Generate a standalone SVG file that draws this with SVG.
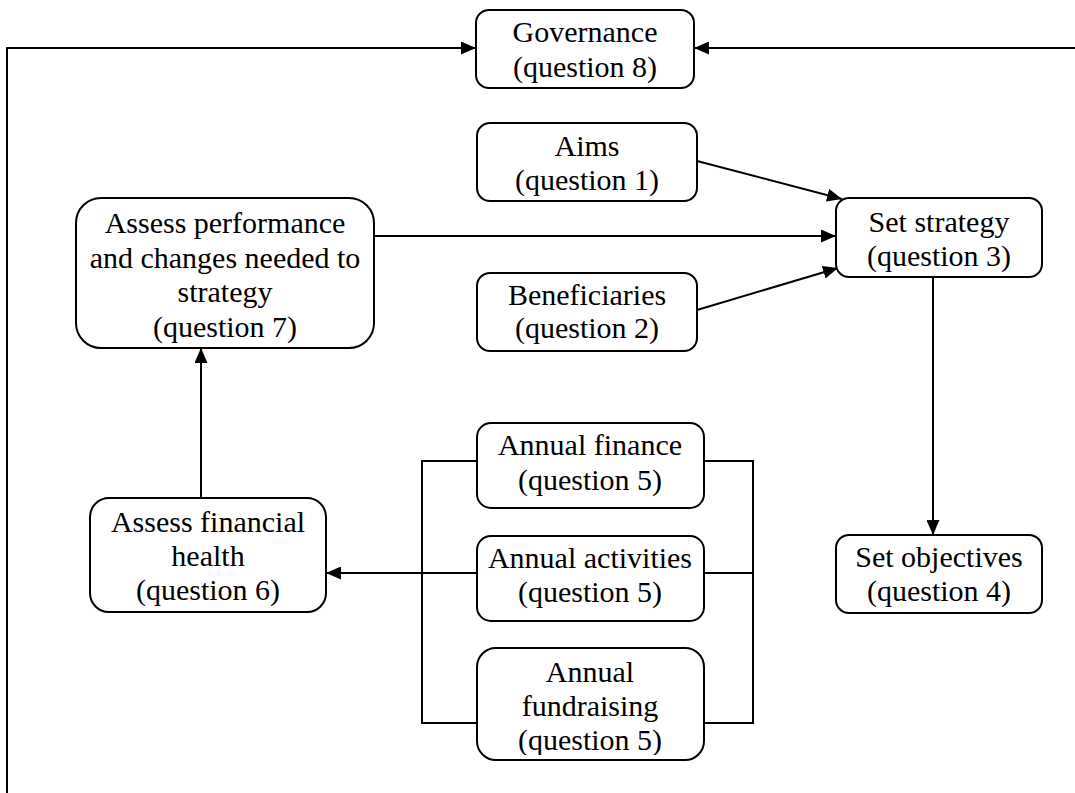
<svg xmlns="http://www.w3.org/2000/svg" width="1075" height="793" viewBox="0 0 1075 793">
<style>
.box{fill:#fff;stroke:#000;stroke-width:2}
.t{font-family:"Liberation Serif","Times New Roman",serif;font-size:30px;fill:#000;text-anchor:middle}
.c{fill:none;stroke:#000;stroke-width:2}
</style>
<defs>
<marker id="ah" markerUnits="userSpaceOnUse" markerWidth="15" markerHeight="13" refX="15" refY="6.5" orient="auto">
<path d="M0,0 L15,6.5 L0,13 z" fill="#000"/>
</marker>
<clipPath id="clipFund"><rect x="477" y="648" width="227" height="107"/></clipPath>
</defs>
<rect width="1075" height="793" fill="#fff"/>
<g id="connectors">
<path class="c" d="M7,793 V48 H476" marker-end="url(#ah)"/>
<path class="c" d="M1075,48 H694" marker-end="url(#ah)"/>
<path class="c" d="M697,161 L842,199" marker-end="url(#ah)"/>
<path class="c" d="M374,236 H836" marker-end="url(#ah)"/>
<path class="c" d="M697,310 L838,268" marker-end="url(#ah)"/>
<path class="c" d="M933,277 V535" marker-end="url(#ah)"/>
<path class="c" d="M201,498 V348" marker-end="url(#ah)"/>
<path class="c" d="M477,573 H326" marker-end="url(#ah)"/>
<path class="c" d="M477,461 H422 V723 H477"/>
<path class="c" d="M704,461 H753 V723 H704"/>
<path class="c" d="M704,573 H753"/>
</g>
<g id="governance">
<rect class="box" x="476" y="10" width="218" height="78" rx="13"/>
<text class="t" x="585" y="42">Governance</text>
<text class="t" x="585" y="77">(question 8)</text>
</g>
<g id="aims">
<rect class="box" x="477" y="123" width="220" height="78" rx="13"/>
<text class="t" x="587" y="156">Aims</text>
<text class="t" x="587" y="190">(question 1)</text>
</g>
<g id="beneficiaries">
<rect class="box" x="477" y="273" width="220" height="78" rx="13"/>
<text class="t" x="587" y="305">Beneficiaries</text>
<text class="t" x="587" y="338">(question 2)</text>
</g>
<g id="set-strategy">
<rect class="box" x="836" y="198" width="206" height="79" rx="13"/>
<text class="t" x="939" y="232">Set strategy</text>
<text class="t" x="939" y="266">(question 3)</text>
</g>
<g id="set-objectives">
<rect class="box" x="836" y="535" width="206" height="78" rx="13"/>
<text class="t" x="939" y="567">Set objectives</text>
<text class="t" x="939" y="601">(question 4)</text>
</g>
<g id="assess-performance">
<rect class="box" x="76" y="198" width="298" height="150" rx="25"/>
<text class="t" x="225" y="233">Assess performance</text>
<text class="t" x="225" y="268">and changes needed to</text>
<text class="t" x="225" y="302">strategy</text>
<text class="t" x="225" y="337">(question 7)</text>
</g>
<g id="assess-financial-health">
<rect class="box" x="90" y="498" width="236" height="114" rx="19"/>
<text class="t" x="208" y="532">Assess financial</text>
<text class="t" x="208" y="566">health</text>
<text class="t" x="208" y="600">(question 6)</text>
</g>
<g id="annual-finance">
<rect class="box" x="477" y="423" width="227" height="85" rx="14"/>
<text class="t" x="590" y="455">Annual finance</text>
<text class="t" x="590" y="490">(question 5)</text>
</g>
<g id="annual-activities">
<rect class="box" x="477" y="536" width="227" height="85" rx="14"/>
<text class="t" x="590" y="568">Annual activities</text>
<text class="t" x="590" y="602">(question 5)</text>
</g>
<g id="annual-fundraising">
<rect class="box" x="477" y="648" width="227" height="112" rx="19"/>
<g clip-path="url(#clipFund)">
<text class="t" x="590" y="682">Annual</text>
<text class="t" x="590" y="716">fundraising</text>
<text class="t" x="590" y="750">(question 5)</text>
</g>
</g>
</svg>
